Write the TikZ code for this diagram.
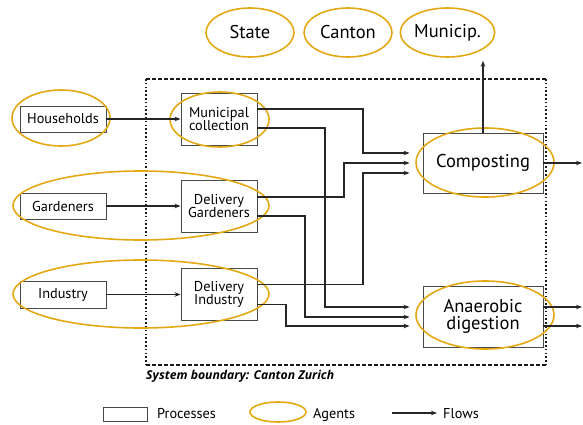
\documentclass[tikz,border=0pt]{standalone}
\usepackage{fontspec}
\setmainfont{PT Sans}
\newfontfamily\sysbfont{Open Sans}
\usetikzlibrary{arrows.meta,shapes.geometric}

\definecolor{agentgold}{RGB}{228,168,20}
\definecolor{boxgray}{RGB}{72,72,72}

\begin{document}
\begin{tikzpicture}[x=1pt,y=-1pt]
        \tikzset{>={Stealth[length=6pt,width=4.5pt]}}
        \tikzset{procbox/.style={rectangle,draw=boxgray,line width=0.9pt,minimum width=76pt,minimum height=52pt,inner sep=0pt,align=center,font=\fontsize{14.3}{13.5}\selectfont}}
        \tikzset{bigtext/.style={font=\fontsize{18.5}{17}\selectfont}}
        \tikzset{agentell/.style={ellipse,draw=agentgold,line width=1.6pt,inner sep=0pt}}
        \tikzset{flowarrow/.style={->,draw=black!85,line width=1.2pt}}
        \tikzset{legendtext/.style={anchor=base west,inner sep=0pt,font=\fontsize{14.3}{16}\selectfont}}
        \tikzset{boundary/.style={line width=1.6pt,black!90}}

        \useasboundingbox (0,0) rectangle (583,425);

        % system boundary
        \draw[boundary,dash pattern=on 3.5pt off 2.5pt] (146,79) -- (546,79);
        \draw[boundary,dash pattern=on 3.5pt off 2.5pt] (146,365) -- (546,365);
        \draw[boundary,dash pattern=on 1.6pt off 2.2pt] (146,79) -- (146,365);
        \draw[boundary,dash pattern=on 1.6pt off 2.2pt] (546,79) -- (546,365);
        \node[anchor=base west,inner sep=0pt,font=\sysbfont\fontsize{12.2}{14}\selectfont\itshape\bfseries] (sysb) at (146,379) {System boundary: Canton Zurich};

        % processes
        \node[procbox,minimum width=86pt,minimum height=26pt] (hh) at (63,119) {Households};
        \node[procbox,minimum width=86pt,minimum height=26pt] (gard) at (63,206) {Gardeners};
        \node[procbox,minimum width=86pt,minimum height=27pt] (ind) at (63,294.5) {Industry};
        \node[procbox] (mun) at (219,119) {Municipal\\collection};
        \node[procbox] (dgard) at (219,206) {Delivery\\Gardeners};
        \node[procbox] (dind) at (219,294.5) {Delivery\\Industry};
        \node[procbox,bigtext,minimum width=120pt,minimum height=60pt] (comp) at (483,163) {Composting};
        \node[procbox,bigtext,minimum width=120pt,minimum height=61pt] (anaer) at (483,316.5) {Anaerobic\\digestion};

        % agents
        \node[agentell,minimum width=98pt,minimum height=56pt] (hhag) at (61,118) {};
        \node[agentell,minimum width=99pt,minimum height=55pt] (munag) at (219.5,119.5) {};
        \node[agentell,minimum width=256pt,minimum height=69pt] (gardag) at (141,205.5) {};
        \node[agentell,minimum width=256pt,minimum height=68pt] (indag) at (141,294) {};
        \node[agentell,minimum width=138pt,minimum height=69pt] (compag) at (485,162.5) {};
        \node[agentell,minimum width=138pt,minimum height=68pt] (anaerag) at (485,315) {};
        \node[agentell,bigtext,minimum width=88pt,minimum height=49pt] (state) at (250,32.5) {State};
        \node[agentell,bigtext,minimum width=88pt,minimum height=49pt] (canton) at (348,32.5) {Canton};
        \node[agentell,bigtext,minimum width=89pt,minimum height=49pt] (municip) at (447.5,32.5) {Municip.};

        % flows
        \draw[flowarrow] (hh) -- (mun);
        \draw[flowarrow] (gard) -- (dgard);
        \draw[flowarrow] (ind) -- (dind);
        \draw[flowarrow] ([yshift=10pt]mun.east) -| (363,153) -- ([xshift=-13pt,yshift=10pt]comp.west);
        \draw[flowarrow] ([yshift=-9pt]mun.east) -| (325,307) -- ([xshift=-13pt,yshift=9.5pt]anaer.west);
        \draw[flowarrow] ([yshift=9pt]dgard.east) -| (344,163) -- ([xshift=-13pt]comp.west);
        \draw[flowarrow] ([yshift=-10pt]dgard.east) -| (305,317) -- ([xshift=-13pt,yshift=-0.5pt]anaer.west);
        \draw[flowarrow] ([yshift=10pt]dind.east) -| (363,173) -- ([xshift=-13pt,yshift=-10pt]comp.west);
        \draw[flowarrow] ([yshift=-10pt]dind.east) -| (286,326) -- ([xshift=-13pt,yshift=-9.5pt]anaer.west);

        \coordinate (compout) at (582,163);
        \coordinate (anout1) at (582,307);
        \coordinate (anout2) at (582,326);
        \draw[flowarrow] (comp.east) -- (compout);
        \draw[flowarrow] ([yshift=9.5pt]anaer.east) -- (anout1);
        \draw[flowarrow] ([yshift=-9.5pt]anaer.east) -- (anout2);
        \draw[flowarrow,shorten >=3pt] (comp.north) -- (comp.north |- municip.south);

        % legend
        \node[procbox,minimum width=44pt,minimum height=14pt] (lgproc) at (125,414) {};
        \node[legendtext] (lgproct) at (157,418) {Processes};
        \node[agentell,minimum width=56pt,minimum height=20pt] (lgagent) at (278,412) {};
        \node[legendtext] (lgagentt) at (313,418) {Agents};
        \coordinate (lgflowa) at (392,413);
        \coordinate (lgflowb) at (437,413);
        \draw[flowarrow] (lgflowa) -- (lgflowb);
        \node[legendtext] (lgflowt) at (443,418) {Flows};
    \end{tikzpicture}
\end{document}
